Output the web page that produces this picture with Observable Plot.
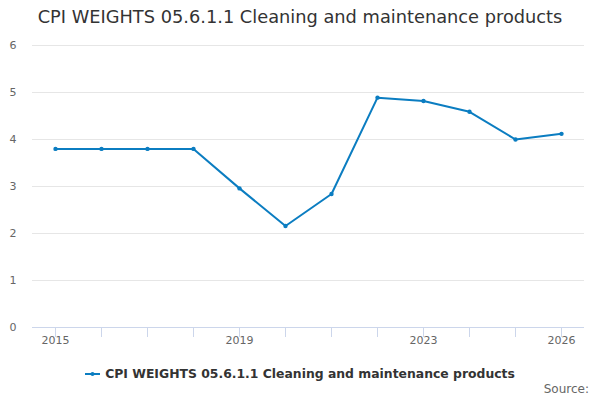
<!DOCTYPE html>
<html>
<head>
<meta charset="utf-8">
<script src="https://cdn.jsdelivr.net/npm/d3@7"></script>
<script src="https://cdn.jsdelivr.net/npm/@observablehq/plot@0.6"></script>
<style>
  html, body { margin: 0; padding: 0; background: #fff; }
  body { width: 600px; height: 400px; position: relative; overflow: hidden; font-family: "DejaVu Sans", sans-serif; }
  #title { position: absolute; top: 5px; left: 0; width: 600px; text-align: center; font-size: 17.8px; color: #333333; line-height: 24px; }
  #chart { position: absolute; top: 36px; left: 0; }
  #legend { position: absolute; top: 365px; left: 0; width: 600px; text-align: center; font-size: 12.4px; font-weight: bold; color: #333333; line-height: 18px; }
  #legend svg { vertical-align: middle; margin-right: 5px; position: relative; top: -1px; }
  #source { position: absolute; top: 381px; right: 11px; font-size: 12px; color: #666666; line-height: 16px; }
</style>
</head>
<body>
<div id="title">CPI WEIGHTS 05.6.1.1 Cleaning and maintenance products</div>
<div id="chart"></div>
<div id="legend"><svg width="15" height="10"><line x1="0" y1="5" x2="15" y2="5" stroke="#0b7dc1" stroke-width="2"/><circle cx="7.5" cy="5" r="2" fill="#0b7dc1"/></svg>CPI WEIGHTS 05.6.1.1 Cleaning and maintenance products</div>
<div id="source">Source:</div>
<script>
const years = [2015, 2016, 2017, 2018, 2019, 2020, 2021, 2022, 2023, 2024, 2025, 2026];
const values = [3.80, 3.80, 3.80, 3.80, 2.96, 2.16, 2.84, 4.89, 4.82, 4.59, 4.00, 4.12];
const yTicks = [0, 1, 2, 3, 4, 5, 6];
const labeledYears = [2015, 2019, 2023, 2026];
const seriesName = "CPI WEIGHTS 05.6.1.1 Cleaning and maintenance products";

const data = years.map((y, i) => ({year: y, value: values[i]}));
const color = "#0b7dc1";

const chart = Plot.plot({
  width: 600,
  height: 314,
  marginTop: 9,
  marginBottom: 23,
  marginLeft: 32,
  marginRight: 16,
  style: {fontFamily: "DejaVu Sans, sans-serif", fontSize: "11px", color: "#666666", background: "#ffffff"},
  x: {domain: [2014.5, 2026.5], label: null},
  y: {domain: [0, 6], label: null},
  marks: [
    Plot.gridY(yTicks, {stroke: "#e6e6e6", strokeOpacity: 1}),
    Plot.axisY(yTicks, {tickSize: 0, tickPadding: 16, fill: "#666666", fontSize: 11, label: null}),
    Plot.ruleY([0], {stroke: "#ccd6eb", strokeWidth: 1}),
    Plot.axisX(years, {tickSize: 10, stroke: "#ccd6eb", tickFormat: () => "", label: null}),
    Plot.axisX(labeledYears, {tickSize: 0, tickPadding: 9, tickFormat: d => String(d), fill: "#666666", fontSize: 11, label: null}),
    Plot.line(data, {x: "year", y: "value", stroke: color, strokeWidth: 2}),
    Plot.dot(data, {x: "year", y: "value", fill: color, r: 2.2, title: d => `${seriesName}: ${d.value}`})
  ]
});
document.getElementById("chart").appendChild(chart);
</script>
</body>
</html>
